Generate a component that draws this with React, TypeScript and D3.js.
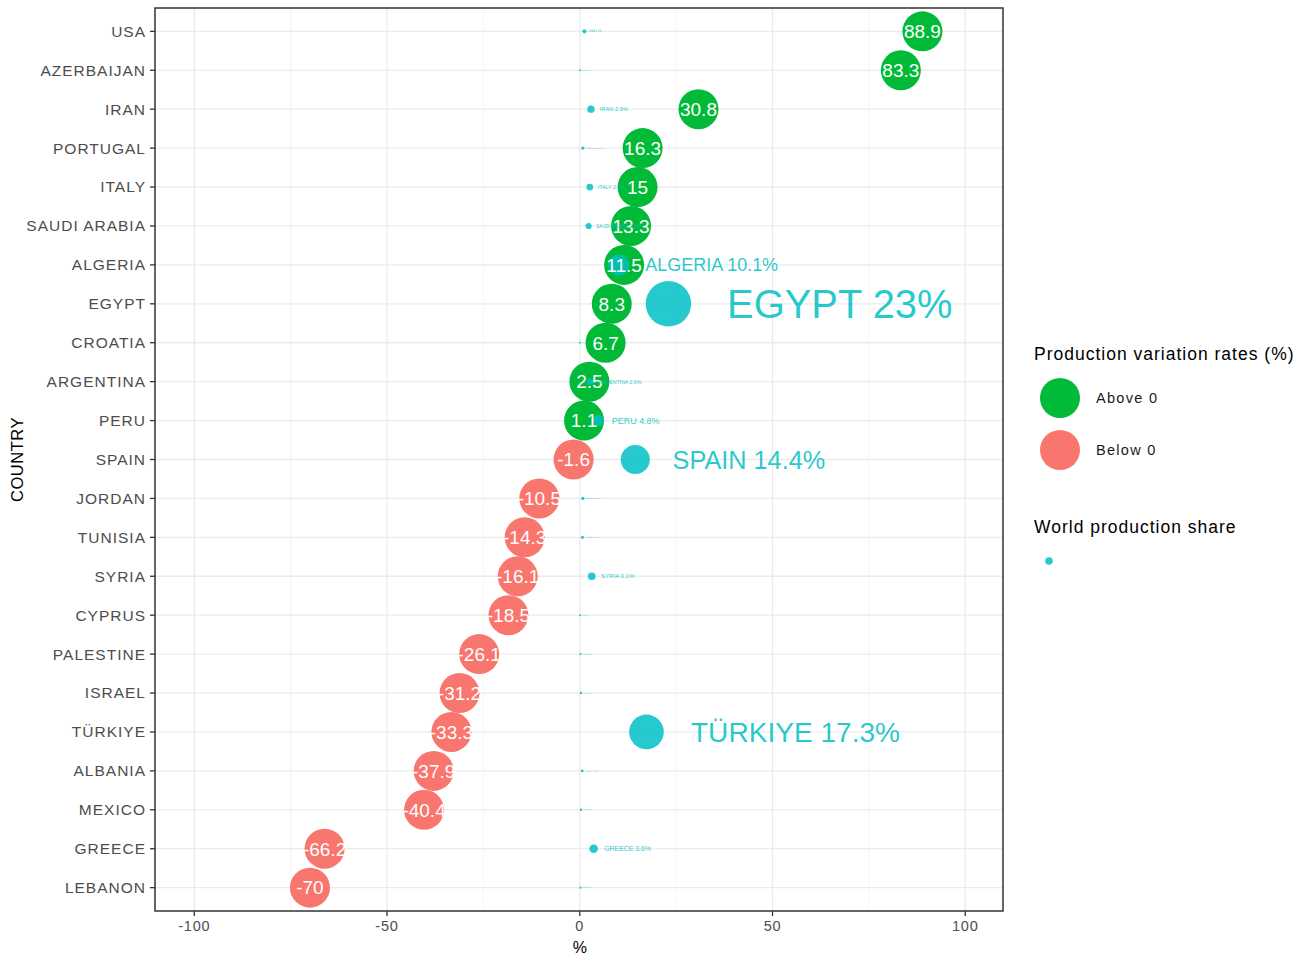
import * as d3 from "d3";

const COUNTRIES = [
  "USA", "AZERBAIJAN", "IRAN", "PORTUGAL", "ITALY", "SAUDI ARABIA", "ALGERIA", "EGYPT",
  "CROATIA", "ARGENTINA", "PERU", "SPAIN", "JORDAN", "TUNISIA", "SYRIA", "CYPRUS",
  "PALESTINE", "ISRAEL", "TÜRKIYE", "ALBANIA", "MEXICO", "GREECE", "LEBANON",
];

// production variation rate (%)
const VARIATION = [
  88.9, 83.3, 30.8, 16.3, 15, 13.3, 11.5, 8.3, 6.7, 2.5, 1.1, -1.6, -10.5, -14.3, -16.1,
  -18.5, -26.1, -31.2, -33.3, -37.9, -40.4, -66.2, -70,
];

// world production share (%)
const SHARE = [
  1.2, 0.1, 2.9, 0.8, 2.6, 2.3, 10.1, 23, 0.05, 2.6, 4.8, 14.4, 0.8, 0.7, 3.1, 0.1, 0.2,
  0.3, 17.3, 0.6, 0.3, 3.6, 0.2,
];

const X_TICKS = [-100, -50, 0, 50, 100];
const X_MINOR = [-75, -25, 25, 75];

const W = 1306;
const H = 958;
const M = { left: 155, right: 1003, top: 8, bottom: 911 };

const GREEN = "#00BA38";
const RED = "#F8766D";
const TEAL = "#00BFC4";
const FONT = "'Liberation Sans', Arial, sans-serif";

export default function App() {
  const x = d3.scaleLinear().domain([-110.2, 109.8]).range([M.left, M.right]);
  const y = d3
    .scalePoint<string>()
    .domain(COUNTRIES)
    .range([M.top, M.bottom])
    .padding(0.6);

  const rows = COUNTRIES.map((name, i) => ({ name, v: VARIATION[i], s: SHARE[i] }));
  const dotR = (s: number) => 0.9 + 0.95 * s;
  const labelSize = (s: number) => 0.8 + 1.7 * s;

  return (
    <svg
      width={W}
      height={H}
      style={{ position: "fixed", left: 0, top: 0, background: "#fff" }}
      fontFamily={FONT}
    >
      <rect x={0} y={0} width={W} height={H} fill="#fff" />

      {/* grid */}
      {X_MINOR.map((t) => (
        <line key={"mn" + t} x1={x(t)} x2={x(t)} y1={M.top} y2={M.bottom} stroke="#F2F2F2" strokeWidth={0.8} />
      ))}
      {X_TICKS.map((t) => (
        <line key={"mj" + t} x1={x(t)} x2={x(t)} y1={M.top} y2={M.bottom} stroke="#EBEBEB" strokeWidth={1.3} />
      ))}
      {COUNTRIES.map((c) => (
        <line key={"h" + c} x1={M.left} x2={M.right} y1={y(c)} y2={y(c)} stroke="#EBEBEB" strokeWidth={1.3} />
      ))}

      {/* variation circles */}
      {rows.map((r) => (
        <circle key={"c" + r.name} cx={x(r.v)} cy={y(r.name)} r={20} fill={r.v >= 0 ? GREEN : RED} />
      ))}

      {/* share dots */}
      {rows.map((r) => (
        <circle key={"d" + r.name} cx={x(r.s)} cy={y(r.name)} r={dotR(r.s)} fill={TEAL} fillOpacity={0.85} />
      ))}

      {/* variation labels */}
      {rows.map((r) => (
        <text
          key={"t" + r.name}
          x={x(r.v)}
          y={y(r.name)}
          dy="0.36em"
          textAnchor="middle"
          fill="#fff"
          fontSize={19}
        >
          {r.v}
        </text>
      ))}

      {/* share labels */}
      {rows.map((r) => (
        <text
          key={"s" + r.name}
          x={x(r.s) + dotR(r.s) + 0.9 * labelSize(r.s)}
          y={y(r.name)}
          dy="0.36em"
          fill={TEAL}
          fillOpacity={0.85}
          fontSize={labelSize(r.s) * (r.s > 15 && r.s < 20 ? 0.93 : 1)}
        >
          {`${r.name} ${r.s}%`}
        </text>
      ))}

      {/* panel border */}
      <rect
        x={M.left}
        y={M.top}
        width={M.right - M.left}
        height={M.bottom - M.top}
        fill="none"
        stroke="#333"
        strokeWidth={1.5}
      />

      {/* y axis */}
      {COUNTRIES.map((c) => (
        <g key={"yl" + c}>
          <line x1={M.left - 5} x2={M.left} y1={y(c)} y2={y(c)} stroke="#333" strokeWidth={1.3} />
          <text
            x={M.left - 9}
            y={y(c)}
            dy="0.35em"
            textAnchor="end"
            fill="#4D4D4D"
            fontSize={15.5}
            letterSpacing={1}
          >
            {c}
          </text>
        </g>
      ))}

      {/* x axis */}
      {X_TICKS.map((t) => (
        <g key={"xl" + t}>
          <line x1={x(t)} x2={x(t)} y1={M.bottom} y2={M.bottom + 5} stroke="#333" strokeWidth={1.3} />
          <text
            x={x(t)}
            y={M.bottom + 20}
            textAnchor="middle"
            fill="#4D4D4D"
            fontSize={14.5}
            letterSpacing={0.8}
          >
            {t}
          </text>
        </g>
      ))}

      <text x={x(0)} y={953} textAnchor="middle" fontSize={16} fill="#000">
        %
      </text>
      <text
        transform={`translate(23, ${(M.top + M.bottom) / 2}) rotate(-90)`}
        textAnchor="middle"
        fontSize={16.5}
        fill="#000"
        letterSpacing={0.5}
      >
        COUNTRY
      </text>

      {/* legend */}
      <g>
        <text x={1034} y={360} fontSize={17.5} fill="#000" letterSpacing={1}>
          Production variation rates (%)
        </text>
        <circle cx={1060} cy={398} r={20} fill={GREEN} />
        <text x={1096} y={398} dy="0.35em" fontSize={14.5} fill="#1a1a1a" letterSpacing={1.3}>
          Above 0
        </text>
        <circle cx={1060} cy={450} r={20} fill={RED} />
        <text x={1096} y={450} dy="0.35em" fontSize={14.5} fill="#1a1a1a" letterSpacing={1.3}>
          Below 0
        </text>
        <text x={1034} y={533} fontSize={17.5} fill="#000" letterSpacing={1}>
          World production share
        </text>
        <circle cx={1049} cy={561} r={3.8} fill={TEAL} fillOpacity={0.85} />
      </g>
    </svg>
  );
}
